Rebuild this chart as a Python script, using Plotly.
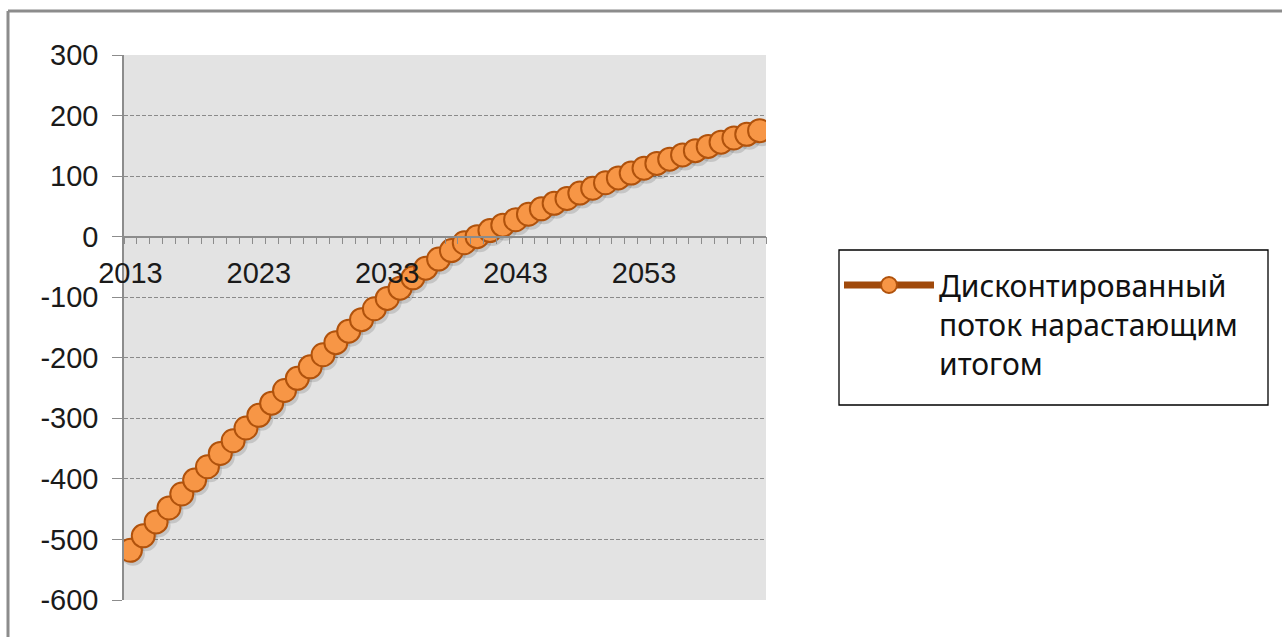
import plotly.graph_objects as go

# Годы расчётного периода и дисконтированный поток нарастающим итогом
years = list(range(2013, 2063))
cum_flow = [
    -518, -494, -471, -448, -425, -402, -380, -358, -337, -316,
    -295, -275, -254, -234, -215, -195, -175, -156, -137, -119,
    -102, -85, -68, -52, -37, -23, -10, 0, 10, 19,
    28, 37, 46, 55, 63, 72, 80, 89, 97, 105,
    113, 121, 128, 135, 142, 149, 156, 163, 169, 175,
]
series_name = "Дисконтированный<br>поток нарастающим<br>итогом"
x_tick_years = [2013, 2023, 2033, 2043, 2053]
y_tick_values = [300, 200, 100, 0, -100, -200, -300, -400, -500, -600]
y_tick_text = ["300", "200", "100", "0", "-100", "-200", "-300", "-400", "-500", "-600"]

W, H = 1282, 637
L, R, T, B = 124, 516, 55, 37
plot_w, plot_h = W - L - R, H - T - B

y_min, y_max = -600, 300
x_min, x_max = years[0] - 0.5, years[-1] + 0.5
# category boundaries for the small tick marks
boundaries = [y - 0.5 for y in years] + [years[-1] + 0.5]


def px_x(px):
    return (px - L) / plot_w


def px_y(py):
    return (H - B - py) / plot_h


# soft drop shadow under the markers, offset a few pixels down-right
sh_dx, sh_dy = 2.5, 3.5
x_shift = sh_dx * (x_max - x_min) / plot_w
y_shift = sh_dy * (y_max - y_min) / plot_h

fig = go.Figure()
fig.add_trace(go.Scatter(
    x=[v + x_shift for v in years], y=[v - y_shift for v in cum_flow],
    mode="markers", showlegend=False, hoverinfo="skip",
    marker=dict(size=24, color="rgba(0,0,0,0.13)", line=dict(width=0)),
))
fig.add_trace(go.Scatter(
    x=years, y=cum_flow, name=series_name, mode="lines+markers",
    line=dict(color="#A0490B", width=7),
    marker=dict(size=23, color="#F79646", line=dict(color="#B0520C", width=2)),
))

# position of the category axis: where the value axis crosses 0
zero_pos = (0 - y_min) / (y_max - y_min)

fig.update_layout(
    width=W, height=H,
    margin=dict(l=L, r=R, t=T, b=B, pad=0),
    paper_bgcolor="white",
    plot_bgcolor="#E3E3E3",
    font=dict(family="Liberation Sans, Arial", size=29, color="#1A1A1A"),
    showlegend=True,
    legend=dict(
        x=px_x(839), y=px_y(259),
        xanchor="left", yanchor="top", valign="top",
        bordercolor="rgba(0,0,0,0)", borderwidth=0, bgcolor="rgba(0,0,0,0)",
        font=dict(family="Noto Sans, Open Sans", size=30, color="#111111"),
        itemwidth=90, tracegroupgap=0,
    ),
    xaxis=dict(
        range=[x_min, x_max],
        anchor="free", position=zero_pos,
        showgrid=False, zeroline=False,
        showline=True, linecolor="#8C8C8C", linewidth=1.5,
        tickmode="array", tickvals=x_tick_years,
        ticks="outside", ticklen=7, tickcolor="rgba(0,0,0,0)",
        ticklabelstandoff=4,
        minor=dict(tickmode="array", tickvals=boundaries, ticks="outside",
                   ticklen=7, tickcolor="#8C8C8C", tickwidth=1.2, showgrid=False),
    ),
    yaxis=dict(
        range=[y_min, y_max],
        tickmode="array", tickvals=y_tick_values, ticktext=y_tick_text,
        showgrid=True, gridcolor="#8A8A8A", gridwidth=1, griddash="4px,2px",
        zeroline=False,
        showline=True, linecolor="#8C8C8C", linewidth=1.5,
        ticks="outside", ticklen=10, tickcolor="#8C8C8C", tickwidth=1.2,
        ticklabelstandoff=8,
    ),
)

# legend frame
fig.add_shape(type="rect", xref="paper", yref="paper",
              x0=px_x(839), x1=px_x(1268), y0=px_y(250), y1=px_y(405),
              line=dict(color="#000000", width=1.3), fillcolor="white", layer="below")

# outer frame of the chart area (top and left edges)
fig.add_shape(type="line", xref="paper", yref="paper",
              x0=px_x(8), x1=px_x(W) + 0.01, y0=px_y(11), y1=px_y(11),
              line=dict(color="#8C8C8C", width=3))
fig.add_shape(type="line", xref="paper", yref="paper",
              x0=px_x(8), x1=px_x(8), y0=px_y(11), y1=px_y(H) - 0.01,
              line=dict(color="#8C8C8C", width=3))

fig.write_html("out.html")
